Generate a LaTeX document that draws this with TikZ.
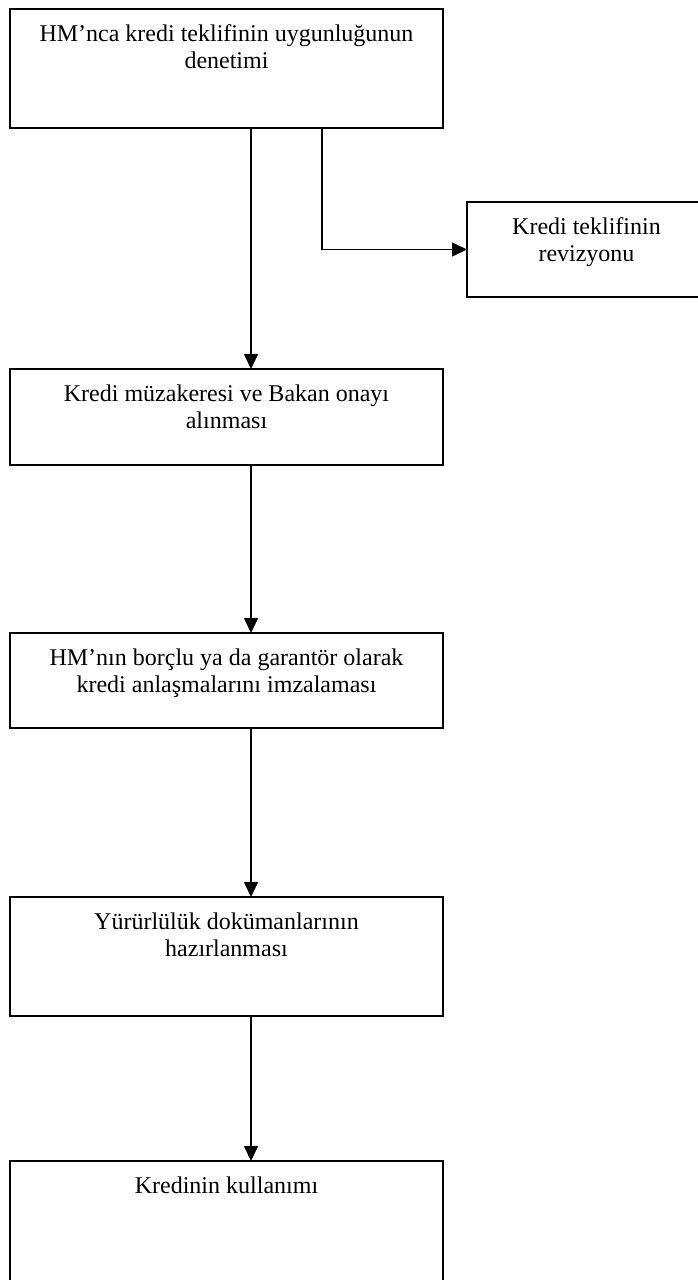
\documentclass[tikz,border=0pt]{standalone}
\usepackage{fontspec}
\setmainfont{Liberation Serif}
\usetikzlibrary{arrows.meta}

% box with its text set at the top, first baseline 32pt below the upper edge
\newcommand{\boxtext}[3]{\parbox[c][#2pt][t]{#1pt}{\centering\rule{0pt}{32pt}#3}}

\begin{document}
\begin{tikzpicture}[x=1pt,y=-1pt,
  stepbox/.style={draw=black, line width=2pt, inner sep=0pt, outer sep=0pt,
    anchor=north west, font=\fontsize{24}{27.5}\selectfont},
  flow/.style={draw=black, line width=1.5pt,
    -{Triangle[width=14pt,length=15pt]}}]
  \useasboundingbox (0,0) rectangle (698,1280);
  \clip (0,0) rectangle (698,1280);

  \node[stepbox] (b1) at (10,9)
    {\boxtext{433}{119}{HM’nca kredi teklifinin uygunluğunun\\denetimi}};
  \node[stepbox] (b2) at (467,202)
    {\boxtext{239}{95}{Kredi teklifinin\\revizyonu}};
  \node[stepbox] (b3) at (10,369)
    {\boxtext{433}{96}{Kredi müzakeresi ve Bakan onayı\\alınması}};
  \node[stepbox] (b4) at (10,633)
    {\boxtext{433}{95}{HM’nın borçlu ya da garantör olarak\\kredi anlaşmalarını imzalaması}};
  \node[stepbox] (b5) at (10,897)
    {\boxtext{433}{119}{Yürürlülük dokümanlarının\\hazırlanması}};
  \node[stepbox] (b6) at (10,1161)
    {\boxtext{433}{150}{Kredinin kullanımı}};

  \coordinate (mx) at (251,0);
  \coordinate (rx) at (322,0);

  \draw[flow] (b1.south -| mx) -- (b3.north -| mx);
  \draw[flow] (b1.south -| rx) |- (b2.west);
  \draw[flow] (b3.south -| mx) -- (b4.north -| mx);
  \draw[flow] (b4.south -| mx) -- (b5.north -| mx);
  \draw[flow] (b5.south -| mx) -- (b6.north -| mx);
\end{tikzpicture}
\end{document}
